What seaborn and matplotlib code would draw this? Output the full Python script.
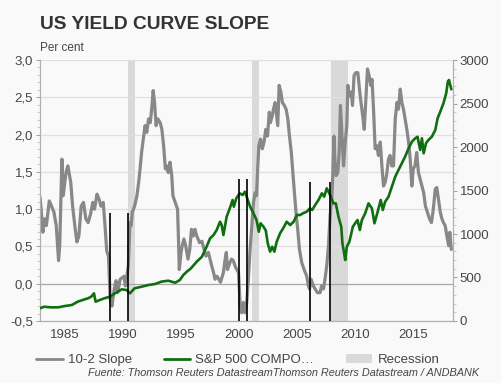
#%% importing modules
import numpy as np
import pandas as pd
import matplotlib
matplotlib.use('Agg')
import matplotlib.pyplot as plt
from matplotlib.ticker import MultipleLocator, FuncFormatter
from matplotlib.lines import Line2D
from matplotlib.patches import Patch
import seaborn as sns

#%% data
# 10-2 slope (per cent), left axis
slope_year = [1982.85, 1982.95, 1983.1, 1983.25, 1983.4, 1983.65, 1983.85, 1984.05, 1984.25, 1984.45,
              1984.55, 1984.74, 1984.85, 1985.1, 1985.25, 1985.5, 1985.66, 1985.85, 1986.03, 1986.2,
              1986.4, 1986.6, 1986.8, 1987.0, 1987.2, 1987.4, 1987.55, 1987.76, 1987.95, 1988.1,
              1988.3, 1988.45, 1988.6, 1988.75, 1988.9, 1989.05, 1989.25, 1989.4, 1989.55, 1989.75,
              1990.1, 1990.2, 1990.46, 1990.6, 1990.7, 1990.8, 1991.0, 1991.2, 1991.35, 1991.47,
              1991.6, 1991.75, 1991.9, 1992.05, 1992.2, 1992.35, 1992.47, 1992.6, 1992.72, 1992.85,
              1993.0, 1993.2, 1993.35, 1993.5, 1993.65, 1993.77, 1993.9, 1994.05, 1994.2, 1994.3,
              1994.5, 1994.7, 1994.78, 1994.85, 1995.0, 1995.1, 1995.25, 1995.4, 1995.6, 1995.75,
              1995.9, 1996.05, 1996.2, 1996.35, 1996.6, 1996.8, 1996.98, 1997.15, 1997.35, 1997.5,
              1997.64, 1997.8, 1997.93, 1998.1, 1998.25, 1998.4, 1998.55, 1998.65, 1998.8, 1998.9,
              1999.0, 1999.2, 1999.35, 1999.5, 1999.65, 1999.8, 1999.95, 2000.1, 2000.23, 2000.37,
              2000.52, 2000.66, 2000.8, 2000.95, 2001.1, 2001.24, 2001.38, 2001.5, 2001.6, 2001.7,
              2001.85, 2002.0, 2002.15, 2002.3, 2002.45, 2002.6, 2002.7, 2002.85, 2002.96, 2003.1,
              2003.2, 2003.33, 2003.45, 2003.6, 2003.73, 2003.9, 2004.05, 2004.2, 2004.34, 2004.5,
              2004.63, 2004.77, 2004.9, 2005.05, 2005.2, 2005.4, 2005.6, 2005.83, 2005.97, 2006.07,
              2006.2, 2006.4, 2006.55, 2006.75, 2006.98, 2007.1, 2007.27, 2007.4, 2007.55, 2007.7,
              2007.84, 2007.98, 2008.07, 2008.18, 2008.25, 2008.36, 2008.5, 2008.62, 2008.73, 2008.85,
              2009.0, 2009.14, 2009.28, 2009.37, 2009.5, 2009.65, 2009.77, 2009.9, 2010.05, 2010.23,
              2010.37, 2010.5, 2010.65, 2010.78, 2010.92, 2011.06, 2011.2, 2011.35, 2011.45, 2011.58,
              2011.72, 2011.87, 2012.0, 2012.16, 2012.3, 2012.44, 2012.58, 2012.7, 2012.87, 2013.0,
              2013.15, 2013.3, 2013.45, 2013.6, 2013.73, 2013.88, 2014.02, 2014.16, 2014.3, 2014.45,
              2014.6, 2014.74, 2014.88, 2015.0, 2015.15, 2015.3, 2015.45, 2015.6, 2015.75, 2015.9,
              2016.05, 2016.22, 2016.4, 2016.57, 2016.73, 2016.9, 2017.03, 2017.18, 2017.33, 2017.47,
              2017.6, 2017.75, 2017.9, 2018.05, 2018.15, 2018.28]
slope_val = [1.16, 1.00, 0.69, 0.87, 0.78, 1.11, 1.04, 0.96, 0.78, 0.31,
             0.51, 1.67, 1.18, 1.50, 1.58, 1.36, 1.04, 0.78, 0.56, 0.64,
             1.04, 1.09, 0.87, 0.82, 0.93, 1.09, 1.00, 1.20, 1.13, 1.04,
             1.09, 0.78, 0.44, 0.37, -0.21, -0.30, -0.07, 0.04, -0.12, 0.06,
             0.10, -0.03, 0.24, 0.82, 0.78, 0.96, 1.04, 1.18, 1.36, 1.54,
             1.76, 1.94, 2.12, 2.03, 2.21, 2.16, 2.34, 2.59, 2.43, 2.12,
             2.21, 2.16, 2.07, 1.85, 1.54, 1.58, 1.49, 1.63, 1.45, 1.18,
             1.09, 1.00, 0.60, 0.19, 0.42, 0.51, 0.60, 0.51, 0.33, 0.46,
             0.73, 0.64, 0.73, 0.64, 0.55, 0.57, 0.46, 0.37, 0.42, 0.33,
             0.24, 0.15, 0.06, 0.10, 0.06, 0.02, 0.10, 0.15, 0.33, 0.42,
             0.19, 0.28, 0.33, 0.31, 0.24, 0.19, 0.15, -0.30, -0.39, -0.25,
             -0.39, -0.25, 0.06, 0.46, 0.78, 1.09, 1.22, 1.18, 1.54, 1.85,
             1.94, 1.81, 1.90, 2.07, 1.98, 2.30, 2.16, 2.25, 2.34, 2.43,
             2.30, 2.12, 2.66, 2.57, 2.43, 2.39, 2.34, 2.21, 1.98, 1.76,
             1.49, 1.22, 0.96, 0.73, 0.46, 0.28, 0.19, 0.10, -0.03, -0.07,
             0.06, -0.03, -0.07, -0.12, -0.12, -0.03, -0.07, 0.06, 0.24, 0.51,
             0.91, 1.13, 1.45, 1.98, 1.67, 1.45, 1.49, 1.76, 2.39, 2.03,
             1.58, 1.90, 2.12, 2.66, 2.52, 2.57, 2.39, 2.79, 2.83, 2.83,
             2.61, 2.43, 2.25, 2.07, 2.48, 2.88, 2.79, 2.66, 2.74, 2.34,
             1.81, 1.85, 1.72, 1.90, 1.58, 1.31, 1.36, 1.45, 1.67, 1.72,
             1.58, 1.58, 2.21, 2.43, 2.34, 2.61, 2.43, 2.34, 2.21, 2.07,
             1.90, 1.67, 1.31, 1.54, 1.58, 1.76, 1.49, 1.40, 1.31, 1.22,
             1.04, 0.96, 0.87, 0.82, 1.00, 1.27, 1.29, 1.13, 0.96, 0.87,
             0.82, 0.78, 0.64, 0.51, 0.69, 0.46]

# S&P 500 composite, right axis
sp_year = [1982.85, 1983.2, 1983.8, 1984.4, 1985.0, 1985.6, 1986.1, 1986.7, 1987.0, 1987.27,
           1987.5, 1987.64, 1988.0, 1988.4, 1988.9, 1989.3, 1989.7, 1989.9, 1990.3, 1990.6,
           1991.0, 1991.6, 1992.2, 1992.76, 1993.3, 1993.9, 1994.5, 1994.9, 1995.2, 1995.5,
           1995.85, 1996.35, 1996.8, 1997.2, 1997.5, 1997.8, 1998.07, 1998.36, 1998.5, 1998.65,
           1998.93, 1999.2, 1999.44, 1999.55, 1999.76, 2000.05, 2000.3, 2000.5, 2000.7, 2000.95,
           2001.24, 2001.5, 2001.7, 2001.85, 2002.1, 2002.3, 2002.47, 2002.67, 2002.85, 2003.04,
           2003.24, 2003.53, 2003.8, 2004.1, 2004.4, 2004.7, 2004.97, 2005.26, 2005.5, 2005.83,
           2006.1, 2006.3, 2006.55, 2006.84, 2007.13, 2007.33, 2007.55, 2007.7, 2007.84, 2008.13,
           2008.33, 2008.56, 2008.8, 2008.9, 2009.05, 2009.14, 2009.28, 2009.5, 2009.8, 2010.0,
           2010.2, 2010.4, 2010.58, 2010.86, 2011.15, 2011.44, 2011.66, 2011.9, 2012.2, 2012.38,
           2012.58, 2012.87, 2013.16, 2013.45, 2013.73, 2014.02, 2014.3, 2014.6, 2014.89, 2015.17,
           2015.37, 2015.6, 2015.75, 2015.9, 2016.1, 2016.3, 2016.6, 2016.9, 2017.1, 2017.33,
           2017.6, 2017.84, 2017.98, 2018.08, 2018.28]
sp_val = [146, 164, 157, 157, 172, 184, 222, 249, 261, 280,
          318, 222, 241, 261, 280, 318, 348, 364, 356, 318,
          376, 394, 414, 425, 452, 463, 440, 471, 529, 567,
          605, 682, 739, 854, 950, 988, 1046, 1141, 1103, 988,
          1199, 1295, 1391, 1314, 1410, 1468, 1448, 1486, 1410, 1314,
          1238, 1161, 1026, 1123, 1084, 1040, 893, 797, 854, 797,
          911, 1008, 1066, 1141, 1103, 1141, 1218, 1218, 1238, 1257,
          1295, 1276, 1333, 1391, 1468, 1429, 1525, 1486, 1448, 1352,
          1352, 1199, 1084, 893, 778, 701, 854, 911, 1084, 1123,
          1161, 1046, 1161, 1238, 1352, 1295, 1123, 1238, 1391, 1276,
          1371, 1429, 1544, 1659, 1736, 1813, 1889, 1985, 2061, 2100,
          2118, 1966, 2100, 1928, 2043, 2080, 2118, 2195, 2330, 2406,
          2502, 2617, 2751, 2770, 2663]

# recessions (start, end)
rec_start = [1990.45, 2001.1, 2007.9]
rec_end = [1991.05, 2001.72, 2009.4]

# curve inversion markers, height in S&P units
inv_year = [1988.85, 1990.43, 2000.0, 2000.7, 2006.1, 2007.8]
inv_top = [1240, 1240, 1630, 1630, 1600, 1600]

#%% plot style
sns.set_style('white', rc={'axes.facecolor': '#f9f9f9', 'figure.facecolor': '#f9f9f9'})
plt.rcParams['font.family'] = ['Liberation Sans', 'DejaVu Sans']

c_gray = '#888888'
c_green = '#0f6e0f'
c_rec = '#d9d9d9'
c_txt = '#454545'

slope = pd.DataFrame({'year': slope_year, 'slope': slope_val})
sp = pd.DataFrame({'year': sp_year, 'sp': sp_val})

fig = plt.figure(figsize=(5.01, 3.83), dpi=100)
ax = fig.add_axes([0.0798, 0.1619, 0.8238, 0.6814])
ax2 = ax.twinx()

#%% recession bands and gridlines
for s, e in zip(rec_start, rec_end):
    ax.axvspan(s, e, color=c_rec, lw=0, zorder=0)
for v in np.arange(-0.5, 3.01, 0.5):
    ax.axhline(v, color='#a8a8a8' if abs(v) < 1e-9 else '#e0e0e0', lw=0.9, zorder=0.5)

#%% series
sns.lineplot(data=slope, x='year', y='slope', ax=ax, color=c_gray, lw=2.3, zorder=2)
sns.lineplot(data=sp, x='year', y='sp', ax=ax2, color=c_green, lw=1.9, zorder=3)
ax2.vlines(inv_year, 0, inv_top, color='black', lw=1.2, zorder=4)

#%% axes
ax.set_xlim(1982.85, 2018.4)
ax.set_ylim(-0.5, 3.0)
ax2.set_ylim(0, 3000)
ax.set_xlabel('')
ax.set_ylabel('')
ax2.set_ylabel('')

ax.xaxis.set_major_locator(MultipleLocator(5))
ax.xaxis.set_minor_locator(MultipleLocator(1))
ax.yaxis.set_major_locator(MultipleLocator(0.5))
ax.yaxis.set_minor_locator(MultipleLocator(0.1))
ax2.yaxis.set_major_locator(MultipleLocator(500))
ax2.yaxis.set_minor_locator(MultipleLocator(100))
ax.yaxis.set_major_formatter(FuncFormatter(lambda v, p: ('%.1f' % v).replace('.', ',')))
ax2.yaxis.set_major_formatter(FuncFormatter(lambda v, p: '%d' % v))

for a in (ax, ax2):
    a.spines['top'].set_visible(False)
    for sp_name in ('left', 'right', 'bottom'):
        a.spines[sp_name].set_color('#b0b0b0')
        a.spines[sp_name].set_linewidth(0.8)
    a.tick_params(which='major', length=3, width=0.7, color='#a0a0a0', labelsize=9.5,
                  labelcolor=c_txt, pad=2)
    a.tick_params(which='minor', length=2, width=0.5, color='#b8b8b8')
ax.tick_params(axis='x', pad=3)

#%% titles, legend, source
fig.text(0.0798, 0.925, 'US YIELD CURVE SLOPE', fontsize=13.8, fontweight='bold',
         color='#333333', va='baseline')
fig.text(0.0798, 0.868, 'Per cent', fontsize=8.5, color=c_txt, va='baseline')

handles = [Line2D([], [], color=c_gray, lw=2.0),
           Line2D([], [], color=c_green, lw=2.0),
           Patch(facecolor=c_rec, edgecolor='none')]
labels = ['10-2 Slope', 'S&P 500 COMPO…', 'Recession']
leg = fig.legend(handles, labels, loc='center', bbox_to_anchor=(0.475, 0.06), ncol=3,
                 frameon=False, fontsize=9.5, handlelength=2.0, handletextpad=0.4,
                 columnspacing=2.4)
for t in leg.get_texts():
    t.set_color(c_txt)

fig.text(0.957, 0.012, 'Fuente: Thomson Reuters DatastreamThomson Reuters Datastream / ANDBANK',
         fontsize=7.8, style='italic', color=c_txt, ha='right', va='bottom')

fig.savefig('out.png', dpi=100, facecolor=fig.get_facecolor())
